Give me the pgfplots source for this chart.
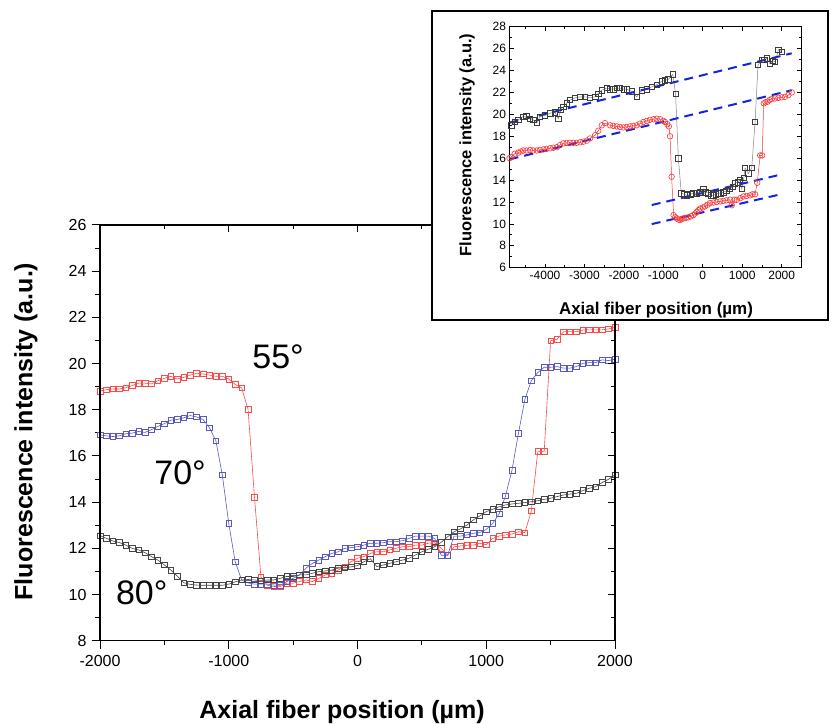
\documentclass[border=0pt]{standalone}
\usepackage{pgfplots}
\pgfplotsset{compat=1.18}
\usepackage{pgfplotstable}
\usepackage{fontspec}
\setmainfont{Liberation Sans}
\definecolor{cred}{RGB}{250,75,75}
\definecolor{cblue}{RGB}{90,90,190}
\definecolor{cgray}{RGB}{70,70,70}
\definecolor{ired}{RGB}{250,55,55}
\definecolor{igray}{RGB}{60,60,60}
\definecolor{idash}{RGB}{20,35,225}

\pgfplotstableread{
x r b k
-2000 18.81 16.91 12.55
-1950 18.87 16.87 12.43
-1900 18.90 16.84 12.32
-1850 18.90 16.87 12.25
-1800 18.95 16.96 12.14
-1750 19.05 16.99 12.00
-1700 19.15 17.06 11.93
-1650 19.15 17.02 11.81
-1600 19.12 17.14 11.64
-1550 19.26 17.28 11.49
-1500 19.36 17.40 11.28
-1450 19.45 17.55 11.06
-1400 19.33 17.58 10.80
-1350 19.40 17.65 10.51
-1300 19.50 17.75 10.44
-1250 19.58 17.69 10.41
-1200 19.55 17.58 10.40
-1150 19.50 17.22 10.40
-1100 19.45 16.66 10.40
-1050 19.45 15.18 10.40
-1000 19.33 13.08 10.45
-950 19.10 11.42 10.55
-900 18.95 10.63 10.63
-850 18.02 10.50 10.65
-800 14.21 10.45 10.63
-750 10.75 10.45 10.60
-700 10.40 10.45 10.63
-650 10.35 10.41 10.63
-600 10.34 10.40 10.70
-550 10.49 10.56 10.78
-500 10.49 10.70 10.78
-450 10.56 10.85 10.85
-400 10.63 11.14 10.85
-350 10.56 11.35 10.92
-300 10.70 11.49 10.99
-250 10.85 11.64 11.02
-200 10.92 11.78 11.06
-150 11.06 11.85 11.14
-100 11.20 12.00 11.16
-50 11.42 12.03 11.20
0 11.57 12.07 11.25
50 11.64 12.14 11.42
100 11.78 12.22 11.55
150 11.85 12.22 11.21
200 11.85 12.24 11.28
250 11.93 12.29 11.35
300 12.00 12.29 11.42
350 12.07 12.33 11.49
400 12.07 12.43 11.57
450 12.14 12.53 11.71
500 12.14 12.53 11.85
550 12.22 12.53 11.96
600 12.24 12.43 12.07
650 12.00 11.70 12.26
700 11.70 11.70 12.50
750 12.07 12.53 12.72
800 12.10 12.53 12.84
850 12.13 12.58 13.01
900 12.14 12.65 13.23
950 12.22 12.68 13.40
1000 12.16 12.82 13.59
1050 12.43 13.08 13.69
1100 12.53 13.49 13.80
1150 12.58 14.28 13.88
1200 12.62 15.39 13.92
1250 12.72 16.98 13.95
1300 12.68 18.45 13.98
1350 13.62 19.26 14.02
1400 16.19 19.61 14.06
1450 16.19 19.84 14.12
1500 20.99 19.84 14.17
1550 21.05 19.87 14.24
1600 21.38 19.80 14.31
1650 21.38 19.80 14.35
1700 21.38 19.87 14.38
1750 21.45 20.01 14.50
1800 21.46 20.04 14.60
1850 21.46 20.04 14.67
1900 21.46 20.16 14.85
1950 21.50 20.13 14.99
2000 21.57 20.19 15.18
}\maindata

\pgfplotstableread{
x y
-4850 19.0
-4770 19.3
-4680 19.5
-4550 19.8
-4470 19.85
-4380 19.6
-4300 19.5
-4210 19.2
-4130 19.8
-4000 19.9
-3870 20.1
-3750 20.2
-3660 19.6
-3600 20.4
-3535 20.7
-3450 21.0
-3370 21.3
-3240 21.5
-3110 21.6
-2985 21.6
-2860 21.5
-2730 21.6
-2650 21.9
-2560 22.2
-2435 22.4
-2350 22.3
-2270 22.3
-2180 22.4
-2100 22.4
-2010 22.3
-1930 22.3
-1800 22.1
-1675 21.6
-1550 22.2
-1420 22.3
-1300 22.5
-1170 22.7
-1040 23.0
-957 23.1
-870 23.2
-760 23.65
-690 21.9
-620 16.0
-545 12.8
-470 12.7
-408 12.6
-320 12.7
-238 12.8
-150 12.8
-69 12.9
15 13.2
80 12.9
141 12.8
200 12.6
268 12.6
330 12.7
395 12.8
460 12.8
522 12.9
600 13.0
691 13.2
760 13.4
818 13.7
880 13.8
945 14.0
990 13.2
1040 14.2
1072 15.1
1156 14.6
1241 15.1
1325 19.3
1400 24.5
1494 25.0
1560 25.0
1621 25.1
1706 24.6
1770 24.9
1833 24.8
1917 25.9
2001 25.7
}\insetblack

\pgfplotstableread{
x y
-4900 16.0
-4845 16.1
-4770 16.4
-4680 16.5
-4620 16.6
-4550 16.7
-4470 16.7
-4380 16.75
-4300 16.7
-4210 16.7
-4130 16.75
-4040 16.8
-3960 16.85
-3870 16.9
-3790 16.95
-3700 17.0
-3620 17.2
-3535 17.35
-3450 17.4
-3370 17.4
-3280 17.4
-3200 17.4
-3110 17.45
-3030 17.5
-2940 17.6
-2860 17.8
-2730 18.1
-2650 18.5
-2560 19.0
-2480 19.2
-2350 19.0
-2270 18.95
-2180 18.9
-2100 18.85
-2010 18.8
-1930 18.85
-1845 18.9
-1760 18.95
-1675 19.0
-1590 19.15
-1506 19.3
-1420 19.4
-1340 19.5
-1250 19.55
-1170 19.6
-1080 19.55
-1000 19.4
-957 19.3
-900 19.1
-860 18.9
-830 18.0
-790 14.3
-740 10.8
-700 10.6
-660 10.5
-620 10.4
-577 10.35
-535 10.45
-492 10.5
-430 10.55
-365 10.6
-300 10.7
-238 10.8
-195 10.95
-154 11.1
-110 11.25
-69 11.4
0 11.5
57 11.6
120 11.75
184 11.9
270 11.95
353 12.0
440 12.05
522 12.1
600 12.15
691 12.2
733 11.7
800 12.2
860 12.2
950 12.35
1030 12.5
1110 12.55
1198 12.6
1260 12.7
1325 12.7
1380 13.75
1455 16.25
1505 16.25
1545 21.0
1590 21.1
1640 21.15
1690 21.3
1748 21.4
1830 21.45
1917 21.5
2000 21.55
2086 21.6
2170 21.75
2255 22.0
}\insetred

\begin{document}
\begin{tikzpicture}[x=1pt,y=1pt]
\path[use as bounding box] (0pt,0pt) rectangle (830pt,723pt);

% ---------- main axis (bottom/left ticks, outside) ----------
\begin{axis}[
  at={(100pt,82.3pt)}, anchor=south west,
  scale only axis, width=515pt, height=415.7pt,
  xmin=-2000, xmax=2000, ymin=8, ymax=26,
  xtick={-2000,-1000,0,1000,2000},
  minor xtick={-1500,-500,500,1500},
  ytick={8,10,...,26},
  minor ytick={9,11,...,25},
  xtick pos=left, ytick pos=left,
  tick align=outside,
  major tick length=8pt, minor tick length=4.5pt,
  every tick/.style={black, line width=1pt},
  axis line style={line width=1.2pt},
  ticklabel style={font=\fontsize{16}{19}\selectfont},
  xticklabel shift=3pt, yticklabel shift=2pt,
  /pgf/number format/assume math mode=true,
  /pgf/number format/1000 sep={},
  clip=false,
]
\addplot[cred, line width=0.6pt, mark=square, mark size=2.8pt, mark options={line width=0.6pt, fill=white}] table[x=x, y=r] {\maindata};
\addplot[cblue, line width=0.6pt, mark=square, mark size=2.8pt, mark options={line width=0.6pt, fill=white}] table[x=x, y=b] {\maindata};
\addplot[cgray, line width=0.6pt, mark=square, mark size=2.8pt, mark options={line width=0.6pt, fill=none}] table[x=x, y=k] {\maindata};
\node[font=\fontsize{34}{40}\selectfont] at (axis cs:-617,20.29) {55°};
\node[font=\fontsize{34}{40}\selectfont] at (axis cs:-1378,15.28) {70°};
\node[font=\fontsize{34}{40}\selectfont] at (axis cs:-1676,10.09) {80°};
\end{axis}

% ---------- mirrored ticks top/right, inside ----------
\begin{axis}[
  at={(100pt,82.3pt)}, anchor=south west,
  scale only axis, width=515pt, height=415.7pt,
  xmin=-2000, xmax=2000, ymin=8, ymax=26,
  xtick={-2000,-1000,0,1000,2000},
  minor xtick={-1500,-500,500,1500},
  ytick={8,10,...,26},
  minor ytick={9,11,...,25},
  xtick pos=right, ytick pos=right,
  tick align=inside,
  major tick length=7pt, minor tick length=4pt,
  every tick/.style={black, line width=1pt},
  axis line style={line width=1.2pt},
  xticklabels={}, yticklabels={},
]
\end{axis}

% main labels
\node[font=\fontsize{25}{30}\selectfont\bfseries, anchor=base] at (342pt,5pt) {Axial fiber position (µm)};
\node[font=\fontsize{25}{30}\selectfont\bfseries, rotate=90] at (26pt,291.5pt) {Fluorescence intensity (a.u.)};

% ---------- inset ----------
\fill[white] (432pt,403pt) rectangle (828pt,712pt);
\draw[line width=1.3pt] (432pt,403pt) rectangle (828pt,712pt);

\begin{axis}[
  at={(509.5pt,455.3pt)}, anchor=south west,
  scale only axis, width=291.9pt, height=241pt,
  xmin=-4900, xmax=2500, ymin=6, ymax=28,
  xtick={-4000,-3000,...,2000},
  minor xtick={-4500,-3500,...,2500},
  ytick={6,8,...,28},
  minor ytick={7,9,...,27},
  tick align=inside,
  major tick length=4pt, minor tick length=2.5pt,
  every tick/.style={black, line width=0.7pt},
  axis line style={line width=0.9pt},
  ticklabel style={font=\fontsize{12}{14}\selectfont},
  /pgf/number format/assume math mode=true,
  /pgf/number format/1000 sep={},
]
\addplot[gray, line width=0.5pt, mark=square, mark size=2.7pt, mark options={igray, line width=0.6pt, fill=none}] table[x=x, y=y] {\insetblack};
\addplot[ired, line width=0.5pt, mark=o, mark size=2.8pt, mark options={ired, line width=0.6pt, fill=none}] table[x=x, y=y] {\insetred};
\addplot[idash, line width=2pt, dash pattern=on 9pt off 6pt] coordinates {(-4900,19.24) (2254,25.57)};
\addplot[idash, line width=2pt, dash pattern=on 9pt off 6pt] coordinates {(-4900,15.89) (2254,22.2)};
\addplot[idash, line width=2pt, dash pattern=on 9pt off 6pt] coordinates {(-1295,11.72) (2000,14.52)};
\addplot[idash, line width=2pt, dash pattern=on 9pt off 6pt] coordinates {(-1295,9.98) (2000,12.72)};
\end{axis}

\node[font=\fontsize{17}{20}\selectfont\bfseries, anchor=base] at (656pt,408pt) {Axial fiber position (µm)};
\node[font=\fontsize{16.5}{20}\selectfont\bfseries, rotate=90] at (467pt,578pt) {Fluorescence intensity (a.u.)};

\end{tikzpicture}
\end{document}
